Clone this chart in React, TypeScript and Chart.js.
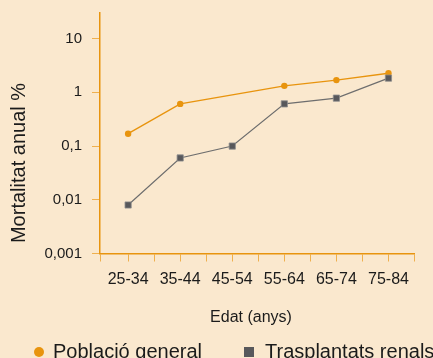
import React, { useEffect, useRef } from 'react';
import { Chart, registerables } from 'chart.js';

Chart.register(...registerables);

// ---- data ----
const categories = ['25-34', '35-44', '45-54', '55-64', '65-74', '75-84'];
const generalValues = [0.17, 0.61, null, 1.32, 1.69, 2.27];
const transplantValues = [0.008, 0.06, 0.1, 0.61, 0.78, 1.84];
const yTickValues = [0.001, 0.01, 0.1, 1, 10];
const yTickLabels = ['0,001', '0,01', '0,1', '1', '10'];
const seriesNames = ['Població general', 'Trasplantats renals'];
const yTitle = 'Mortalitat anual %';
const xTitle = 'Edat (anys)';

// ---- styles ----
const FONT = '"Liberation Sans", Arial, Helvetica, sans-serif';
const BG = '#fae8ce';
const ORANGE = '#e8940e';
const TICK = '#efb04e';
const GRAY_FILL = '#58585b';
const GRAY_LINE = '#6e6e6e';
const TEXT = '#1b1b1b';
const X_MIN = -0.54;
const X_MAX = 5.5;

const textPlugin = {
  id: 'customText',
  afterDraw(chart: any) {
    const ctx = chart.ctx as CanvasRenderingContext2D;
    ctx.save();
    ctx.fillStyle = TEXT;
    // y title
    ctx.save();
    ctx.translate(24.5, 163);
    ctx.rotate(-Math.PI / 2);
    ctx.font = `20px ${FONT}`;
    ctx.textAlign = 'center';
    ctx.textBaseline = 'alphabetic';
    ctx.fillText(yTitle, 0, 0);
    ctx.restore();
    // x title
    ctx.font = `16px ${FONT}`;
    ctx.textAlign = 'center';
    ctx.textBaseline = 'alphabetic';
    ctx.fillText(xTitle, 251, 321.5);
    // legend
    ctx.font = `20px ${FONT}`;
    ctx.textAlign = 'left';
    ctx.fillStyle = ORANGE;
    ctx.beginPath();
    ctx.arc(39, 352, 5, 0, Math.PI * 2);
    ctx.fill();
    ctx.fillStyle = TEXT;
    ctx.fillText(seriesNames[0], 53, 357.5);
    ctx.fillStyle = GRAY_FILL;
    ctx.fillRect(244, 347, 10, 10);
    ctx.fillStyle = TEXT;
    ctx.fillText(seriesNames[1], 265, 357.5);
    ctx.restore();
  },
};

export default function App() {
  const ref = useRef<HTMLCanvasElement | null>(null);

  useEffect(() => {
    if (!ref.current) return;
    Chart.defaults.font.family = FONT;
    const chart = new Chart(ref.current, {
      type: 'line',
      data: {
        datasets: [
          {
            label: seriesNames[1],
            data: categories.map((_, i) => ({ x: i, y: transplantValues[i] })),
            borderColor: GRAY_LINE,
            borderWidth: 1.2,
            backgroundColor: GRAY_FILL,
            pointStyle: 'rect',
            pointRadius: 4.4,
            pointBackgroundColor: GRAY_FILL,
            pointBorderColor: '#8e8e8e',
            pointBorderWidth: 0.8,
            spanGaps: true,
            order: 0,
          },
          {
            label: seriesNames[0],
            data: categories.map((_, i) => ({ x: i, y: generalValues[i] })),
            borderColor: ORANGE,
            borderWidth: 1.4,
            backgroundColor: ORANGE,
            pointStyle: 'circle',
            pointRadius: 3.2,
            pointBackgroundColor: ORANGE,
            pointBorderWidth: 0,
            spanGaps: true,
            order: 1,
          },
        ],
      },
      options: {
        animation: false,
        responsive: true,
        maintainAspectRatio: false,
        layout: { padding: { top: 13, right: 18.5, left: 0, bottom: 0 } },
        plugins: {
          legend: { display: false },
          tooltip: { enabled: false },
          title: { display: false },
        },
        scales: {
          x: {
            type: 'linear',
            min: X_MIN,
            max: X_MAX,
            afterBuildTicks: (s: any) => {
              const t: any[] = [{ value: X_MIN }];
              for (let i = 0; i < categories.length * 2; i++) t.push({ value: i * 0.5 });
              s.ticks = t;
            },
            afterFit: (s: any) => {
              s.height = 104.5;
              s.paddingLeft = 0;
              s.paddingRight = 0;
            },
            ticks: {
              autoSkip: false,
              maxRotation: 0,
              padding: 8,
              color: TEXT,
              font: { size: 16, family: FONT },
              callback: (v: any) => (Number.isInteger(v) ? categories[v] : ''),
            },
            grid: { drawOnChartArea: false, drawTicks: true, tickLength: 8, color: TICK, lineWidth: 1 },
            border: { display: true, color: ORANGE, width: 1.5 },
          },
          y: {
            type: 'logarithmic',
            min: 0.001,
            max: 30,
            afterBuildTicks: (s: any) => {
              s.ticks = yTickValues.map((v) => ({ value: v }));
            },
            afterFit: (s: any) => {
              s.width = 100;
              s.paddingTop = 0;
              s.paddingBottom = 0;
            },
            ticks: {
              padding: 10,
              color: TEXT,
              font: { size: 15, family: FONT },
              callback: (v: any) => {
                const i = yTickValues.findIndex((t) => Math.abs(t - v) / t < 1e-6);
                return i >= 0 ? yTickLabels[i] : '';
              },
            },
            grid: { drawOnChartArea: false, drawTicks: true, tickLength: 8, color: TICK, lineWidth: 1 },
            border: { display: true, color: ORANGE, width: 1.5 },
          },
        },
      },
      plugins: [textPlugin],
    } as any);
    return () => chart.destroy();
  }, []);

  return (
    <div
      style={{
        position: 'absolute',
        left: 0,
        top: 0,
        width: 433,
        height: 358,
        background: BG,
        overflow: 'hidden',
      }}
    >
      <canvas ref={ref} />
    </div>
  );
}
